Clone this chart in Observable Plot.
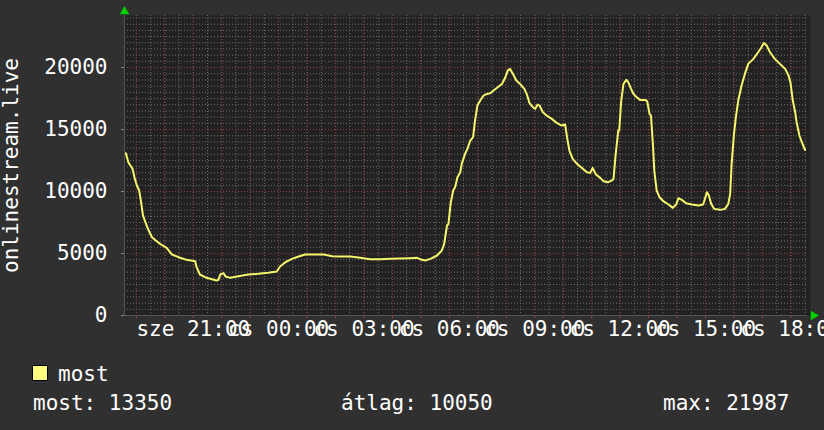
<!DOCTYPE html>
<html>
<head>
<meta charset="utf-8">
<script src="https://cdn.jsdelivr.net/npm/d3@7"></script>
<script src="https://cdn.jsdelivr.net/npm/@observablehq/plot@0.6"></script>
<style>
  html, body { margin: 0; padding: 0; background: #303030; }
  body { width: 824px; height: 430px; position: relative; overflow: hidden; font-family: "DejaVu Sans Mono", monospace; color: #ffffff; }
  #chart { position: absolute; left: 0; top: 0; }
  .lg { position: absolute; font-size: 21px; line-height: 1; white-space: pre; color: #ffffff; }
  .sw { position: absolute; left: 32px; top: 365px; width: 14px; height: 14px; background: #ffff80; border: 1px solid #000; }
</style>
</head>
<body>
<div id="chart"></div>
<div class="sw"></div>
<div class="lg" style="left:58px; top:364px;">most</div>
<div class="lg" style="left:33px; top:393px;">most: 13350</div>
<div class="lg" style="left:341px; top:393px;">átlag: 10050</div>
<div class="lg" style="left:663px; top:393px;">max: 21987</div>
<script>
// ---- data ----
const seriesName = "most";
const axisTitle = "onlinestream.live";
const dayNames = ["v", "h", "k", "sze", "cs", "p", "szo"];
const rangeStart = "2024-01-03T18:35";
const rangeEnd = "2024-01-04T18:35";
const yMax = 24200;
const yTicks = [0, 5000, 10000, 15000, 20000];

const times = [
  "2024-01-03T18:38","2024-01-03T18:43","2024-01-03T18:52","2024-01-03T18:56","2024-01-03T19:01",
  "2024-01-03T19:06","2024-01-03T19:10","2024-01-03T19:14","2024-01-03T19:19","2024-01-03T19:26",
  "2024-01-03T19:33","2024-01-03T19:41","2024-01-03T19:50","2024-01-03T20:04","2024-01-03T20:15",
  "2024-01-03T20:29","2024-01-03T20:46","2024-01-03T21:04","2024-01-03T21:07","2024-01-03T21:14",
  "2024-01-03T21:28","2024-01-03T21:49","2024-01-03T21:53","2024-01-03T21:57","2024-01-03T22:04",
  "2024-01-03T22:08","2024-01-03T22:18","2024-01-03T22:35","2024-01-03T22:56","2024-01-03T23:17",
  "2024-01-03T23:38","2024-01-03T23:56","2024-01-04T00:03","2024-01-04T00:14","2024-01-04T00:28",
  "2024-01-04T00:42","2024-01-04T00:56","2024-01-04T01:17","2024-01-04T01:35","2024-01-04T01:53",
  "2024-01-04T02:10","2024-01-04T02:31","2024-01-04T02:52","2024-01-04T03:13","2024-01-04T03:34",
  "2024-01-04T03:55","2024-01-04T04:16","2024-01-04T04:38","2024-01-04T04:52","2024-01-04T05:02",
  "2024-01-04T05:09","2024-01-04T05:20","2024-01-04T05:34","2024-01-04T05:44","2024-01-04T05:49",
  "2024-01-04T05:55","2024-01-04T05:58","2024-01-04T06:03","2024-01-04T06:08","2024-01-04T06:12",
  "2024-01-04T06:17","2024-01-04T06:23","2024-01-04T06:26","2024-01-04T06:33","2024-01-04T06:38",
  "2024-01-04T06:44","2024-01-04T06:50","2024-01-04T06:54","2024-01-04T06:59","2024-01-04T07:05",
  "2024-01-04T07:12","2024-01-04T07:19","2024-01-04T07:26","2024-01-04T07:33","2024-01-04T07:44",
  "2024-01-04T07:51","2024-01-04T07:58","2024-01-04T08:03","2024-01-04T08:08","2024-01-04T08:14",
  "2024-01-04T08:21","2024-01-04T08:29","2024-01-04T08:38","2024-01-04T08:43","2024-01-04T08:49",
  "2024-01-04T08:56","2024-01-04T09:01","2024-01-04T09:06","2024-01-04T09:10","2024-01-04T09:17",
  "2024-01-04T09:25","2024-01-04T09:36","2024-01-04T09:47","2024-01-04T09:57","2024-01-04T10:04",
  "2024-01-04T10:08","2024-01-04T10:13","2024-01-04T10:20","2024-01-04T10:29","2024-01-04T10:39",
  "2024-01-04T10:50","2024-01-04T10:57","2024-01-04T11:02","2024-01-04T11:09","2024-01-04T11:18",
  "2024-01-04T11:25","2024-01-04T11:35","2024-01-04T11:42","2024-01-04T11:46","2024-01-04T11:50",
  "2024-01-04T11:56","2024-01-04T11:58","2024-01-04T12:02","2024-01-04T12:07","2024-01-04T12:13",
  "2024-01-04T12:17","2024-01-04T12:23","2024-01-04T12:28","2024-01-04T12:35","2024-01-04T12:42",
  "2024-01-04T12:53","2024-01-04T12:57","2024-01-04T13:02","2024-01-04T13:05","2024-01-04T13:09",
  "2024-01-04T13:12","2024-01-04T13:17","2024-01-04T13:23","2024-01-04T13:31","2024-01-04T13:42",
  "2024-01-04T13:51","2024-01-04T13:58","2024-01-04T14:03","2024-01-04T14:10","2024-01-04T14:19",
  "2024-01-04T14:31","2024-01-04T14:45","2024-01-04T14:55","2024-01-04T15:03","2024-01-04T15:07",
  "2024-01-04T15:12","2024-01-04T15:18","2024-01-04T15:31","2024-01-04T15:41","2024-01-04T15:48",
  "2024-01-04T15:52","2024-01-04T15:55","2024-01-04T16:00","2024-01-04T16:04","2024-01-04T16:09",
  "2024-01-04T16:16","2024-01-04T16:23","2024-01-04T16:30","2024-01-04T16:41","2024-01-04T16:51",
  "2024-01-04T16:58","2024-01-04T17:03","2024-01-04T17:09","2024-01-04T17:16","2024-01-04T17:26",
  "2024-01-04T17:37","2024-01-04T17:48","2024-01-04T17:55","2024-01-04T17:59","2024-01-04T18:04",
  "2024-01-04T18:09","2024-01-04T18:12","2024-01-04T18:18","2024-01-04T18:23","2024-01-04T18:30"
];
const values = [
  13089,12366,11828,11155,10484,
  10081,9140,8065,7527,6855,
  6317,6048,5780,5457,4919,
  4704,4489,4382,3898,3306,
  3038,2823,2876,3306,3414,
  3145,3038,3172,3306,3360,
  3441,3548,3952,4296,4570,
  4758,4919,4919,4919,4785,
  4758,4758,4650,4543,4543,
  4570,4597,4624,4650,4489,
  4435,4570,4839,5242,5780,
  7258,7392,9140,10081,10349,
  11155,11559,12234,13040,13444,
  14113,14381,15726,16935,17339,
  17742,17876,17930,18145,18468,
  18683,19220,19758,19892,19489,
  18952,18683,18280,17876,17124,
  16800,16667,17016,16935,16398,
  16129,15860,15511,15323,15403,
  14381,13306,12634,12234,11909,
  11559,11505,11909,11371,11102,
  10833,10753,10887,11000,12769,
  14919,14919,17204,18683,19005,
  18817,18280,17876,17608,17393,
  17393,17285,16263,16129,13847,
  11694,10081,9543,9220,8952,
  8683,8952,9462,9328,9059,
  8952,8871,8952,9946,9677,
  9006,8602,8522,8602,9006,
  9812,12234,14651,15995,17339,
  18548,19489,20296,20699,21237,
  21640,21987,21774,21237,20699,
  20296,19892,19355,18817,17339,
  16398,15591,14516,13978,13350
];

// ---- build ----
const parse = s => new Date(s + ":00Z");
const data = times.map((t, i) => ({time: parse(t), value: values[i]}));
const x0 = parse(rangeStart), x1 = parse(rangeEnd);
const halfHours = d3.utcMinute.every(30).range(x0, x1);
const hours = d3.utcHour.every(1).range(x0, x1);
const labelHours = d3.utcHour.every(3).range(x0, x1);
const minorY = d3.range(0, yMax, 500);
const majorY = d3.range(0, yMax, 5000);
const hm = d3.utcFormat("%H:%M");
const fmtX = d => `${dayNames[d.getUTCDay()]} ${hm(d)}`;

const chart = Plot.plot({
  width: 824,
  height: 345,
  marginLeft: 124,
  marginRight: 17,
  marginTop: 15,
  marginBottom: 30,
  style: {background: "transparent", color: "#ffffff", fontFamily: "DejaVu Sans Mono", fontSize: "21px"},
  x: {type: "utc", domain: [x0, x1]},
  y: {domain: [0, yMax]},
  marks: [
    Plot.frame({fill: "#222222", stroke: null, insetRight: -3}),
    Plot.gridY(minorY, {stroke: "#6e6e6e", strokeOpacity: 1, strokeDasharray: "1,2"}),
    Plot.gridX(halfHours, {stroke: "#6e6e6e", strokeOpacity: 1, strokeDasharray: "1,2"}),
    Plot.gridY(majorY, {stroke: "#8a3c3c", strokeOpacity: 1, strokeDasharray: "1,2"}),
    Plot.gridX(hours, {stroke: "#8a3c3c", strokeOpacity: 1, strokeDasharray: "1,2"}),
    Plot.ruleX([x0], {stroke: "#555555", strokeWidth: 1}),
    Plot.ruleY([0], {stroke: "#555555", strokeWidth: 1}),
    Plot.axisX(hours, {tickSize: 3, tickFormat: () => "", stroke: "#9a4040", label: null}),
    Plot.axisX(labelHours, {tickSize: 0, tickPadding: 6, tickFormat: fmtX, label: null, fill: "#ffffff"}),
    Plot.axisY(yTicks, {tickSize: 3, tickPadding: 14, tickFormat: d => String(d), stroke: "#888888", fill: "#ffffff",
      label: axisTitle, labelAnchor: "center", labelArrow: "none"}),
    Plot.line(data, {x: "time", y: "value", stroke: "#f6f66c", strokeWidth: 2}),
    Plot.dot([x0], {x: d => d, y: () => yMax, symbol: "triangle", r: 3.5, fill: "#00d000", stroke: null, dy: -4}),
    Plot.dot([x1], {x: d => d, y: () => 0, symbol: "triangle", r: 3.5, fill: "#00d000", stroke: null, rotate: 90, dx: 6})
  ]
});
document.getElementById("chart").appendChild(chart);
</script>
</body>
</html>
